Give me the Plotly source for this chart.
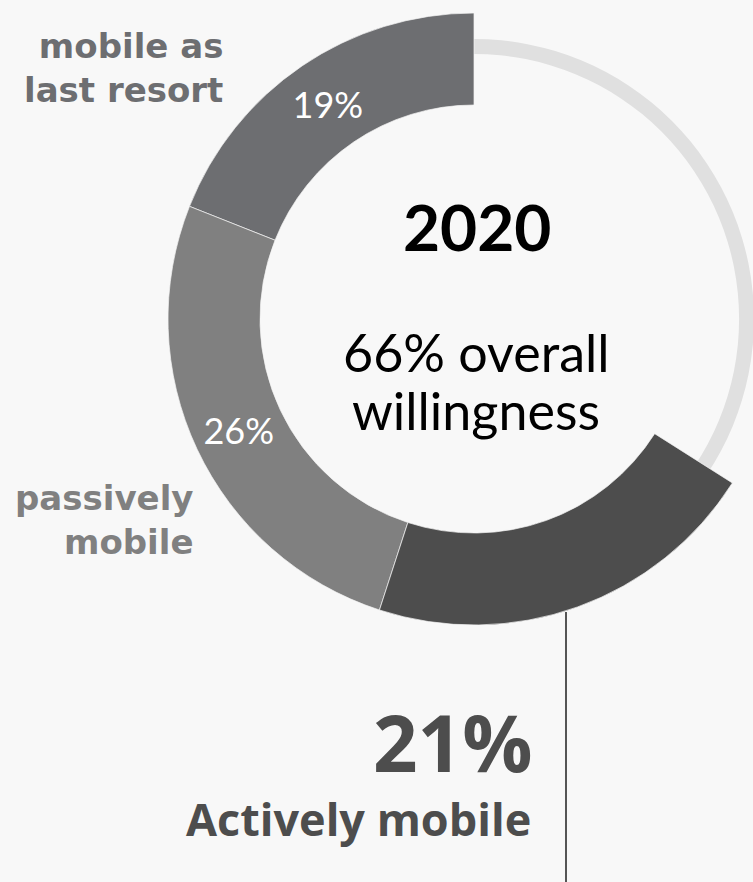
import plotly.graph_objects as go

# ---- data ----
categories = ["mobile as last resort", "passively mobile", "Actively mobile"]
label_lines = ["mobile as<br>last resort", "passively<br>mobile", "Actively mobile"]
shares = [19, 26, 21]          # percent
year_label = "2020"
overall = sum(shares)          # 66
slice_colors = ["#6d6e71", "#808080", "#4d4d4d"]

# ---- layout geometry (pixels) ----
W, H = 780, 882
cx, cy = 474, 319
R_out, R_in = 306, 214
ring_out, ring_in = 280, 265
BG = "#f8f8f8"


def px(x):
    return x / W


def py(y):
    return 1 - y / H


fig = go.Figure()

# background thin ring (100%)
fig.add_trace(go.Pie(
    values=[100],
    labels=["total"],
    hole=ring_in / ring_out,
    marker=dict(colors=["#e0e0e0"], line=dict(width=0)),
    textinfo="none", hoverinfo="skip", sort=False, showlegend=False,
    domain=dict(x=[px(cx - ring_out), px(cx + ring_out)],
                y=[py(cy + ring_out), py(cy - ring_out)]),
))

# main segments + transparent remainder (first slice starts at 12 o'clock, going counter-clockwise)
vals = shares + [100 - overall]
texts = [f"{v}%" for v in shares[:2]] + ["", ""]
fig.add_trace(go.Pie(
    values=vals,
    labels=categories + ["rest"],
    hole=R_in / R_out,
    direction="counterclockwise",
    rotation=-3.6 * shares[0],
    sort=False,
    marker=dict(colors=slice_colors + ["rgba(0,0,0,0)"],
                line=dict(color="#f4f4f4", width=[0.7, 0.7, 0.7, 0])),
    text=texts,
    textinfo="text",
    textposition="inside",
    insidetextorientation="horizontal",
    textfont=dict(family="Lato", size=36, color="white"),
    hoverinfo="skip",
    showlegend=False,
    domain=dict(x=[px(cx - R_out), min(1.0, px(cx + R_out))],
                y=[py(cy + R_out), py(cy - R_out)]),
))

ann = []


def add(text, x, y, size, color, family, xanchor="center", bold=False):
    t = f"<b>{text}</b>" if bold else text
    ann.append(dict(text=t, x=px(x), y=py(y), xref="paper", yref="paper",
                    xanchor=xanchor, yanchor="middle", align=xanchor if xanchor != "center" else "center",
                    showarrow=False,
                    font=dict(size=size, color=color, family=family)))


# center texts
add(year_label, 477, 226, 64, "#000000", "Lato", bold=True)
add(f"{overall}% overall", 476, 352, 52, "#000000", "Lato")
add("willingness", 476, 410, 52, "#000000", "Lato")

# category labels
add(label_lines[0], 225, 68, 34, "#6d6e71", "DejaVu Sans", xanchor="right", bold=True)
add(label_lines[1], 195, 520, 34, "#808080", "DejaVu Sans", xanchor="right", bold=True)
add(f"{shares[2]}%", 534, 742, 78, "#4d4d4d", "Open Sans", xanchor="right", bold=True)
add(label_lines[2], 533, 818, 45, "#4d4d4d", "Open Sans", xanchor="right", bold=True)

fig.update_layout(
    width=W, height=H,
    margin=dict(l=0, r=0, t=0, b=0),
    paper_bgcolor=BG, plot_bgcolor=BG,
    annotations=ann,
    shapes=[dict(type="line", xref="paper", yref="paper",
                 x0=px(566), x1=px(566), y0=0, y1=py(612),
                 line=dict(color="#555555", width=2), layer="below")],
)

fig.write_html(
    "out.html",
    config={"displayModeBar": False},
    post_script="document.body.style.margin='0';"
                "document.body.style.overflow='hidden';"
                "document.body.style.background='#f8f8f8';",
)
